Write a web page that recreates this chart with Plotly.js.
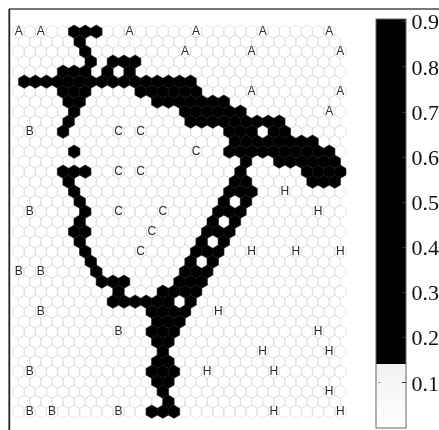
<!DOCTYPE html>
<html>
<head>
<meta charset="utf-8">
<script src="https://cdn.plot.ly/plotly-3.0.1.min.js"></script>
<style>html,body{margin:0;padding:0;background:#fff;overflow:hidden;width:439px;height:430px}#chart{width:460px;height:430px}</style>
</head>
<body>
<div id="chart"></div>
<script>
// Hex grid: 39 rows; odd rows are shifted half a column to the right.
var rowCount = 39;
var firstColumn = 0;
var lastColumnEven = 29;
var lastColumnOdd = 28;

// Dark cells per row (column indices).
var darkByRow = [
  [5,6,7],
  [5],
  [6],
  [6,8,9,10],
  [4,5,6,8,10],
  [0,1,2,3,4,5,6,7,8,9,10,11,12,13,14,15],
  [4,5,6,11,12,13,14,15,16],
  [4,5,12,13,14,15,16,17,18],
  [5,15,16,17,18,19,20],
  [4,15,16,17,18,19,20,21,22,23],
  [4,19,20,21,23,24],
  [19,20,21,22,23,24,25,26],
  [5,19,20,21,22,23,24,25,26,27,28],
  [20,23,24,25,26,27,28],
  [4,5,6,20,26,27,28,29],
  [4,19,20,26,27,28],
  [5,19,20,21],
  [5,18,20],
  [6,18,19,20],
  [5,17,19],
  [5,6,17,18,19],
  [5,16,18],
  [6,16,17,18],
  [6,15,17],
  [7,15,16,17],
  [7,8,9,14,15,16],
  [9,13,14,15,16],
  [8,9,10,11,12,13,15],
  [12,13,14,15],
  [12,13,14],
  [12,13,14],
  [12,13],
  [13],
  [12,13],
  [12,13,14],
  [12,13],
  [13],
  [13],
  [12,13,14]
];

var darkValue = 0.5;

// Letter labels: rows, columns, letters.
var labelRows = [0,0,0,0,0,0, 2,2,2, 6,6, 8,
                 10,18,24,24,28,30,34,38,38,38,
                 10,10,12,14,14,18,18,20,22,
                 16,18,22,22,22,28,30,32,32,34,34,36,38,38];
var labelCols = [0,2,10,16,22,28, 15,21,29, 21,29, 28,
                 1,1,0,2,2,9,1,1,3,9,
                 9,11,16,9,11,9,13,12,11,
                 24,27,21,25,29,18,27,22,28,17,23,28,23,29];
var labelText = ['A','A','A','A','A','A','A','A','A','A','A','A',
                 'B','B','B','B','B','B','B','B','B','B',
                 'C','C','C','C','C','C','C','C','C',
                 'H','H','H','H','H','H','H','H','H','H','H','H','H','H'];

var colorbarTicks = [0.1,0.2,0.3,0.4,0.5,0.6,0.7,0.8,0.9];
var colorMin = 0;
var colorMax = 0.906;
var colorBreak = 0.141;

function cellX(row, col){ return col + (row % 2 ? 0.5 : 0); }

var lx = [], ly = [], dx = [], dy = [], dv = [];
for (var r = 0; r < rowCount; r++) {
  var last = (r % 2) ? lastColumnOdd : (r === 0 ? 28 : lastColumnEven);
  for (var c = firstColumn; c <= last; c++) {
    if (darkByRow[r].indexOf(c) < 0) {
      lx.push(cellX(r, c)); ly.push(r);
    }
  }
  darkByRow[r].forEach(function(c){
    dx.push(cellX(r, c)); dy.push(r); dv.push(darkValue);
  });
}

var brk = colorBreak / colorMax;
var scale = [[0,'#ffffff'],[brk,'#f1f1f1'],[brk,'#000000'],[1,'#000000']];

var plotW = 360, plotH = 421;

var traces = [
  {type:'scatter', mode:'markers', x:lx, y:ly, hoverinfo:'skip', showlegend:false,
   marker:{symbol:'hexagon', size:13.2, color:'rgba(255,255,255,0)',
           line:{color:'#dedede', width:0.8}}},
  {type:'scatter', mode:'markers', x:dx, y:dy, hoverinfo:'skip', showlegend:false,
   marker:{symbol:'hexagon', size:13.2, color:dv, cmin:colorMin, cmax:colorMax, colorscale:scale,
           showscale:true, line:{color:'#141414', width:0.6},
           colorbar:{x:366.7/plotW, xanchor:'left', xpad:0,
                     y:411/plotH, yanchor:'top', ypad:0,
                     lenmode:'pixels', len:408.7, thicknessmode:'pixels', thickness:30,
                     outlinecolor:'#666666', outlinewidth:1, borderwidth:0,
                     tickmode:'array', tickvals:colorbarTicks, ticktext:colorbarTicks.map(String),
                     ticks:'inside', ticklen:4, tickcolor:'#333333', tickwidth:1,
                     tickfont:{family:'Liberation Serif', size:22, color:'#111111'}}}},
  {type:'scatter', mode:'text', hoverinfo:'skip', showlegend:false, opacity:0.99,
   x:labelCols.map(function(c,i){ return cellX(labelRows[i], c); }), y:labelRows, text:labelText,
   textposition:'middle center',
   textfont:{family:'Liberation Sans', size:12, color:'#2a2a2a'}}
];

var layout = {
  width:460, height:430, autosize:false,
  margin:{l:9, r:91, t:9, b:0, pad:0},
  paper_bgcolor:'#ffffff', plot_bgcolor:'#ffffff',
  showlegend:false,
  font:{family:'Liberation Sans'},
  xaxis:{range:[-0.875,31.59], showline:false,
         showgrid:false, zeroline:false, ticks:'', showticklabels:false},
  yaxis:{range:[39.83,-2.27], showline:false,
         showgrid:false, zeroline:false, ticks:'', showticklabels:false},
  shapes:[
    {type:'line', xref:'paper', yref:'paper', x0:0, x1:430/plotW, y0:1, y1:1, layer:'above',
     line:{color:'#4a4a4a', width:1.6}},
    {type:'line', xref:'paper', yref:'paper', x0:0.3/plotW, x1:0.3/plotW, y0:0, y1:1, layer:'above',
     line:{color:'#222222', width:1.8}}
  ],
  annotations:[
    {xref:'paper', yref:'paper', x:370.7/plotW, y:1-373.5/plotH, ax:-4, ay:0, axref:'pixel', ayref:'pixel',
     text:' ', showarrow:true, arrowhead:0, arrowwidth:1, arrowcolor:'#333333', standoff:0}
  ]
};

Plotly.newPlot('chart', traces, layout, {displayModeBar:false, staticPlot:true});
</script>
</body>
</html>
